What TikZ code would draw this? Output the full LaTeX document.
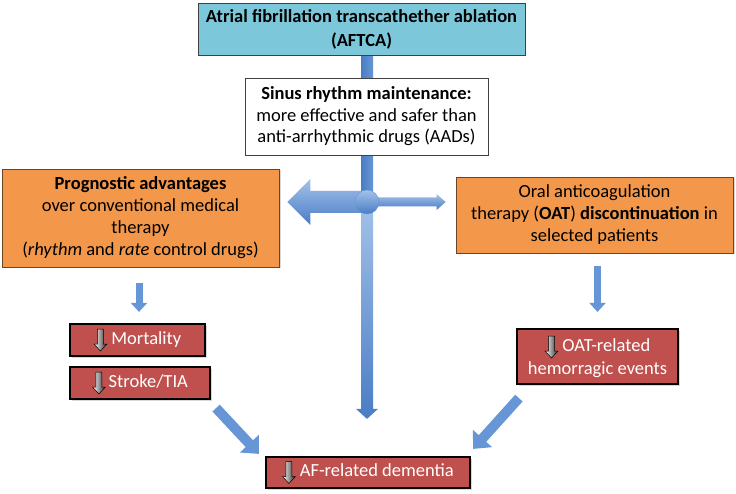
\documentclass[tikz,border=0pt]{standalone}
\usepackage{fontspec}
\setmainfont{Carlito}
\usetikzlibrary{arrows.meta,calc,backgrounds,shadows}
\definecolor{cyanbox}{HTML}{7CC8DA}
\definecolor{orangebox}{HTML}{F3974A}
\definecolor{orangeedge}{HTML}{6E4520}
\definecolor{redbox}{HTML}{C0504D}
\definecolor{bluedark}{HTML}{4A7DC4}
\definecolor{bluemid}{HTML}{6796D6}
\definecolor{bluelight}{HTML}{A3C2EA}
\newcommand\downglyph{\tikz[baseline={(0pt,0pt)},x=1pt,y=1pt]{\shadedraw[left color=white,right color=black!85,draw=black,line width=0.5pt] (-3,15) -- (3,15) -- (3,0) -- (6.5,0) -- (0,-7) -- (-6.5,0) -- (-3,0) -- cycle;}}
\tikzset{
  boxbase/.style={inner sep=0pt,align=center},
  cyanstyle/.style={boxbase,fill=cyanbox,draw=black!75,line width=0.8pt},
  whitestyle/.style={boxbase,fill=white,draw=black!75,line width=0.8pt},
  orangestyle/.style={boxbase,fill=orangebox,draw=orangeedge,line width=0.8pt,
     drop shadow={opacity=0.3,shadow xshift=1.5pt,shadow yshift=-1.5pt}},
  redstyle/.style={boxbase,fill=redbox,draw=black,line width=2.2pt,text=white,
     drop shadow={opacity=0.3,shadow xshift=1.5pt,shadow yshift=-1.5pt}},
  smallarr/.style={draw=bluemid,line width=7pt,-{Triangle[width=16pt,length=9pt]}},
  diagarr/.style={draw=bluemid,line width=10pt,-{Triangle[width=25pt,length=14pt]}},
}
\begin{document}
\begin{tikzpicture}[x=1pt,y=-1pt]
\useasboundingbox (0,0) rectangle (736,494);

\node[cyanstyle,minimum width=327pt,minimum height=52pt,font=\fontsize{18.5}{24}\selectfont\bfseries] (top) at (361.5,29)
  {Atrial fibrillation transcathether ablation\\(AFTCA)};
\node[whitestyle,minimum width=243pt,minimum height=77pt,font=\fontsize{18.5}{21.5}\selectfont] (sinus) at (366.5,116.5)
  {\textbf{Sinus rhythm maintenance:}\\more effective and safer than\\anti-arrhythmic drugs (AADs)};
\node[orangestyle,minimum width=277pt,minimum height=98pt,font=\fontsize{18.5}{22}\selectfont] (lbox) at (140.5,218)
  {\textbf{Prognostic advantages}\\over conventional medical\\therapy\\(\textit{rhythm} and \textit{rate} control drugs)};
\node[orangestyle,minimum width=277pt,minimum height=76pt,font=\fontsize{18.5}{22}\selectfont] (rbox) at (594.5,215)
  {Oral anticoagulation\\therapy (\textbf{OAT}) \textbf{discontinuation} in\\selected patients};
\node[redstyle,minimum width=135pt,minimum height=32pt,font=\fontsize{18.5}{22}\selectfont] (mort) at (137.5,340)
  {\downglyph\ Mortality};
\node[redstyle,minimum width=140pt,minimum height=32pt,font=\fontsize{18.5}{22}\selectfont] (stroke) at (140,383)
  {\downglyph\,Stroke/TIA};
\node[redstyle,minimum width=161pt,minimum height=55pt,font=\fontsize{18.5}{23}\selectfont] (oat) at (597.5,356.5)
  {\downglyph\ OAT-related\\hemorragic events};
\node[redstyle,minimum width=204pt,minimum height=31pt,font=\fontsize{18.5}{22}\selectfont] (dem) at (368,472.5)
  {\downglyph\ AF-related dementia};

\coordinate (hub) at (367,202);
\coordinate (vtip) at ($(dem.north -| hub)+(0,-37)$);
\coordinate (ltip) at ($(lbox.east |- hub)+(8,0)$);
\coordinate (rtip) at ($(rbox.west |- hub)+(-10,0)$);

\begin{scope}[on background layer]
  \fill[white] (0,0) rectangle (736,494);
  % upper vertical bar
  \shade[left color=bluedark,right color=bluemid] ($(top.south -| hub)+(-6,0)$) rectangle ($(hub)+(6,0)$);
  % lower vertical arrow
  \shade[top color=bluelight,bottom color=bluedark]
    ($(hub)+(-6,0)$) -- ($(vtip)+(-6,-10)$) -- ($(vtip)+(-11,-10)$) -- (vtip)
    -- ($(vtip)+(11,-10)$) -- ($(vtip)+(6,-10)$) -- ($(hub)+(6,0)$) -- cycle;
\end{scope}
% left big arrow
\shade[top color=bluelight,bottom color=bluedark]
  ($(hub)+(0,-11)$) -- ($(ltip)+(23,-11)$) -- ($(ltip)+(23,-23)$) -- (ltip)
  -- ($(ltip)+(23,23)$) -- ($(ltip)+(23,11)$) -- ($(hub)+(0,11)$) -- cycle;
% right arrow
\shade[top color=bluelight,bottom color=bluedark]
  ($(hub)+(0,-4.5)$) -- ($(rtip)+(-9,-4.5)$) -- ($(rtip)+(-9,-8)$) -- (rtip)
  -- ($(rtip)+(-9,8)$) -- ($(rtip)+(-9,4.5)$) -- ($(hub)+(0,4.5)$) -- cycle;
% hub circle
\shadedraw[top color=bluelight,bottom color=bluedark,draw=bluemid,line width=0.4pt] (hub) circle (12);

% small down arrows
\draw[smallarr,shorten <=16pt,shorten >=11pt] (lbox.south -| 139,0) -- (mort.north -| 139,0);
\draw[smallarr,shorten <=13pt,shorten >=16pt] (oat.north |- rbox.south) -- (oat.north);
% diagonal arrows
\draw[diagarr] ($(stroke.south east)+(5,8)$) -- ($(dem.north west)+(-6,-2)$);
\draw[diagarr] ($(oat.south west)+(3,13)$) -- ($(dem.north east)+(2,-7)$);
\end{tikzpicture}
\end{document}
